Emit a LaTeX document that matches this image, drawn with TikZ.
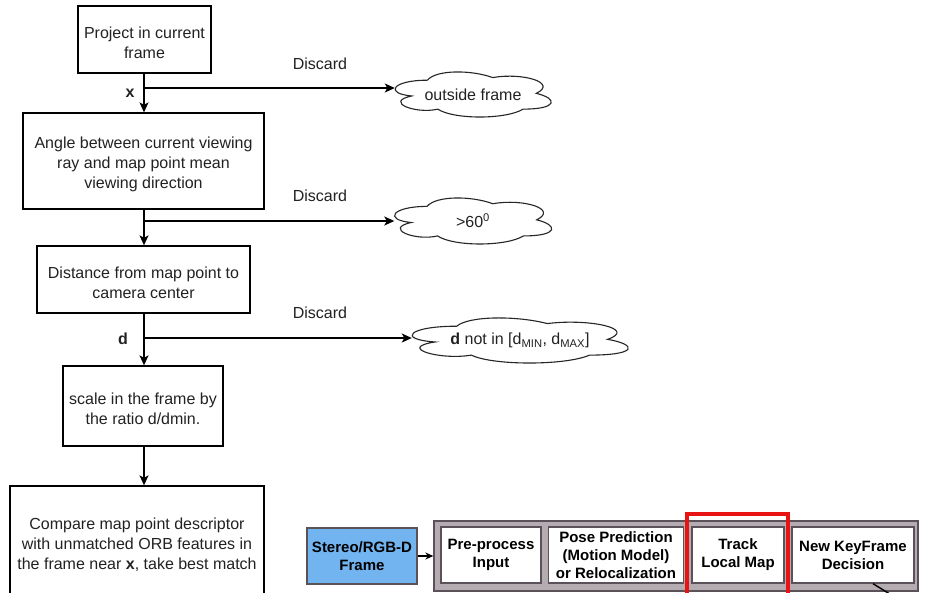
\documentclass[tikz,border=0pt]{standalone}
\usepackage{fontspec}
\setmainfont{Liberation Sans}
\usetikzlibrary{arrows.meta}

\definecolor{txt}{HTML}{222222}
\definecolor{framebl}{HTML}{72B4F0}
\definecolor{pipegray}{HTML}{B4ACB0}
\definecolor{pipeedge}{HTML}{5A5258}
\definecolor{hilite}{HTML}{E81414}

% tall strut on the first line lowers the text block a little inside its box
\newcommand\topstrut{\rule{0pt}{17.5pt}}

\tikzset{
  flow/.style={draw=black, line width=1.3pt, fill=white, text=txt, align=center,
    inner sep=0pt, font={\fontsize{16}{20}\selectfont}},
  cloudtext/.style={text=txt, inner sep=0pt, font={\fontsize{16}{20}\selectfont}},
  cloudline/.style={draw=black!85, line width=1.1pt},
  lbl/.style={text=txt, inner sep=0pt, font={\fontsize{16}{20}\selectfont}},
  conn/.style={draw=black, line width=1.3pt},
  arr/.style={conn, -{Stealth[length=10pt,width=9pt,inset=2.5pt]}},
  stage/.style={draw=pipeedge, line width=1.3pt, fill=white, text=black, align=center,
    inner sep=0pt, font={\fontsize{15}{18}\selectfont\bfseries}},
}

% cloud outline around a node: #1 centre, #2/#3 unit width/height of the outline
\newcommand\drawcloud[3]{%
  \begin{scope}[shift={(#1)}, x=#2pt, y=-#3pt, shift={(-0.512,-0.522)}]
    \draw[cloudline] (0.25,0.25) .. controls (0.05,0.25) and (0,0.5) .. (0.16,0.55)
      .. controls (0,0.66) and (0.18,0.9) .. (0.31,0.8)
      .. controls (0.4,1) and (0.7,1) .. (0.8,0.8)
      .. controls (1,0.8) and (1,0.6) .. (0.875,0.5)
      .. controls (1,0.3) and (0.8,0.1) .. (0.625,0.2)
      .. controls (0.5,0.05) and (0.3,0.05) .. (0.25,0.25) -- cycle;
  \end{scope}}

\begin{document}
\begin{tikzpicture}[x=1pt,y=-1pt]
\useasboundingbox (0,0) rectangle (929,592);
\clip (0,0) rectangle (929,592);
\fill[white] (0,0) rectangle (929,592);

% ---- matching flow ----
\node[flow, minimum width=133pt, minimum height=67pt] (proj) at (144.5,39.5)
  {\topstrut Project in current\\frame};
\node[flow, minimum width=241pt, minimum height=96pt] (angle) at (143.5,161)
  {\topstrut Angle between current viewing\\ray and map point mean\\viewing direction};
\node[flow, minimum width=213pt, minimum height=67pt] (dist) at (143.5,279.5)
  {\topstrut Distance from map point to\\camera center};
\node[flow, minimum width=160pt, minimum height=80pt] (scale) at (143,406)
  {\topstrut scale in the frame by\\the ratio d/dmin.};
\node[flow, minimum width=254pt, minimum height=112pt] (cmp) at (137,542)
  {\topstrut Compare map point descriptor\\with unmatched ORB features in\\the frame near \textbf{x}, take best match};

% ---- rejection clouds ----
\node[cloudtext, minimum width=156pt, minimum height=45pt] (out) at (473,94.5) {outside frame};
\node[cloudtext, minimum width=157pt, minimum height=46pt] (ang) at (473,221) {>60\textsuperscript{0}};
\node[cloudtext, minimum width=216pt, minimum height=45pt] (rng) at (520,340.5)
  {\textbf{d} not in [d\textsubscript{MIN}, d\textsubscript{MAX}]};
\drawcloud{out.center}{174.3}{52.6}
\drawcloud{ang.center}{175.4}{53.7}
\drawcloud{rng.center}{241.3}{52.6}

% ---- main chain ----
\coordinate (spine) at (144,0);
\draw[arr] (spine |- proj.south) -- (spine |- angle.north);
\draw[arr] (spine |- angle.south) -- (spine |- dist.north);
\draw[arr] (spine |- dist.south) -- (spine |- scale.north);
\draw[arr] (spine |- scale.south) -- (spine |- cmp.north);

% ---- discard branches ----
\coordinate (b1) at (144,88);
\coordinate (b2) at (144,221);
\coordinate (b3) at (144,338);
\draw[arr] (b1) -- (b1 -| out.west);
\draw[arr] (b2) -- (b2 -| ang.west);
\draw[arr] (b3) -- (b3 -| rng.west);

\node[lbl] (dc1) at (320,64) {Discard};
\node[lbl] (dc2) at (320,196) {Discard};
\node[lbl] (dc3) at (320,313) {Discard};
\node[lbl, font={\fontsize{16}{20}\selectfont\bfseries}] (lx) at (130,93) {x};
\node[lbl, font={\fontsize{16}{20}\selectfont\bfseries}] (ld) at (123,339) {d};

% ---- tracking pipeline ----
\node[draw=pipeedge, line width=1.2pt, fill=framebl, text=black, align=center, inner sep=0pt,
  font={\fontsize{15}{18}\selectfont\bfseries}, minimum width=110pt, minimum height=56pt]
  (frame) at (362,556) {Stereo/RGB-D\\Frame};
\node[draw=pipeedge, line width=1.3pt, fill=pipegray, minimum width=484pt, minimum height=70pt]
  (pipe) at (676,556) {};
\node[stage, minimum width=100pt, minimum height=56pt] (pre) at (491,555) {Pre-process\\Input};
\node[stage, minimum width=135pt, minimum height=56pt] (pose) at (616,555)
  {Pose Prediction\\(Motion Model)\\or Relocalization};
\node[stage, minimum width=92pt, minimum height=56pt] (track) at (738,555) {Track\\Local Map};
\node[stage, minimum width=122pt, minimum height=56pt] (kf) at (853,555) {New KeyFrame\\Decision};
\draw[line width=1.6pt, -{Stealth[length=8pt,width=7pt]}] (frame) -- (pipe.west |- frame);
\coordinate (kfout) at (893,596);
\draw[line width=1.4pt] ([xshift=20pt]kf.south) -- (kfout);
\node[draw=hilite, line width=4pt, minimum width=101pt, minimum height=90pt] (focus)
  at (737.5,559) {};
\end{tikzpicture}
\end{document}
